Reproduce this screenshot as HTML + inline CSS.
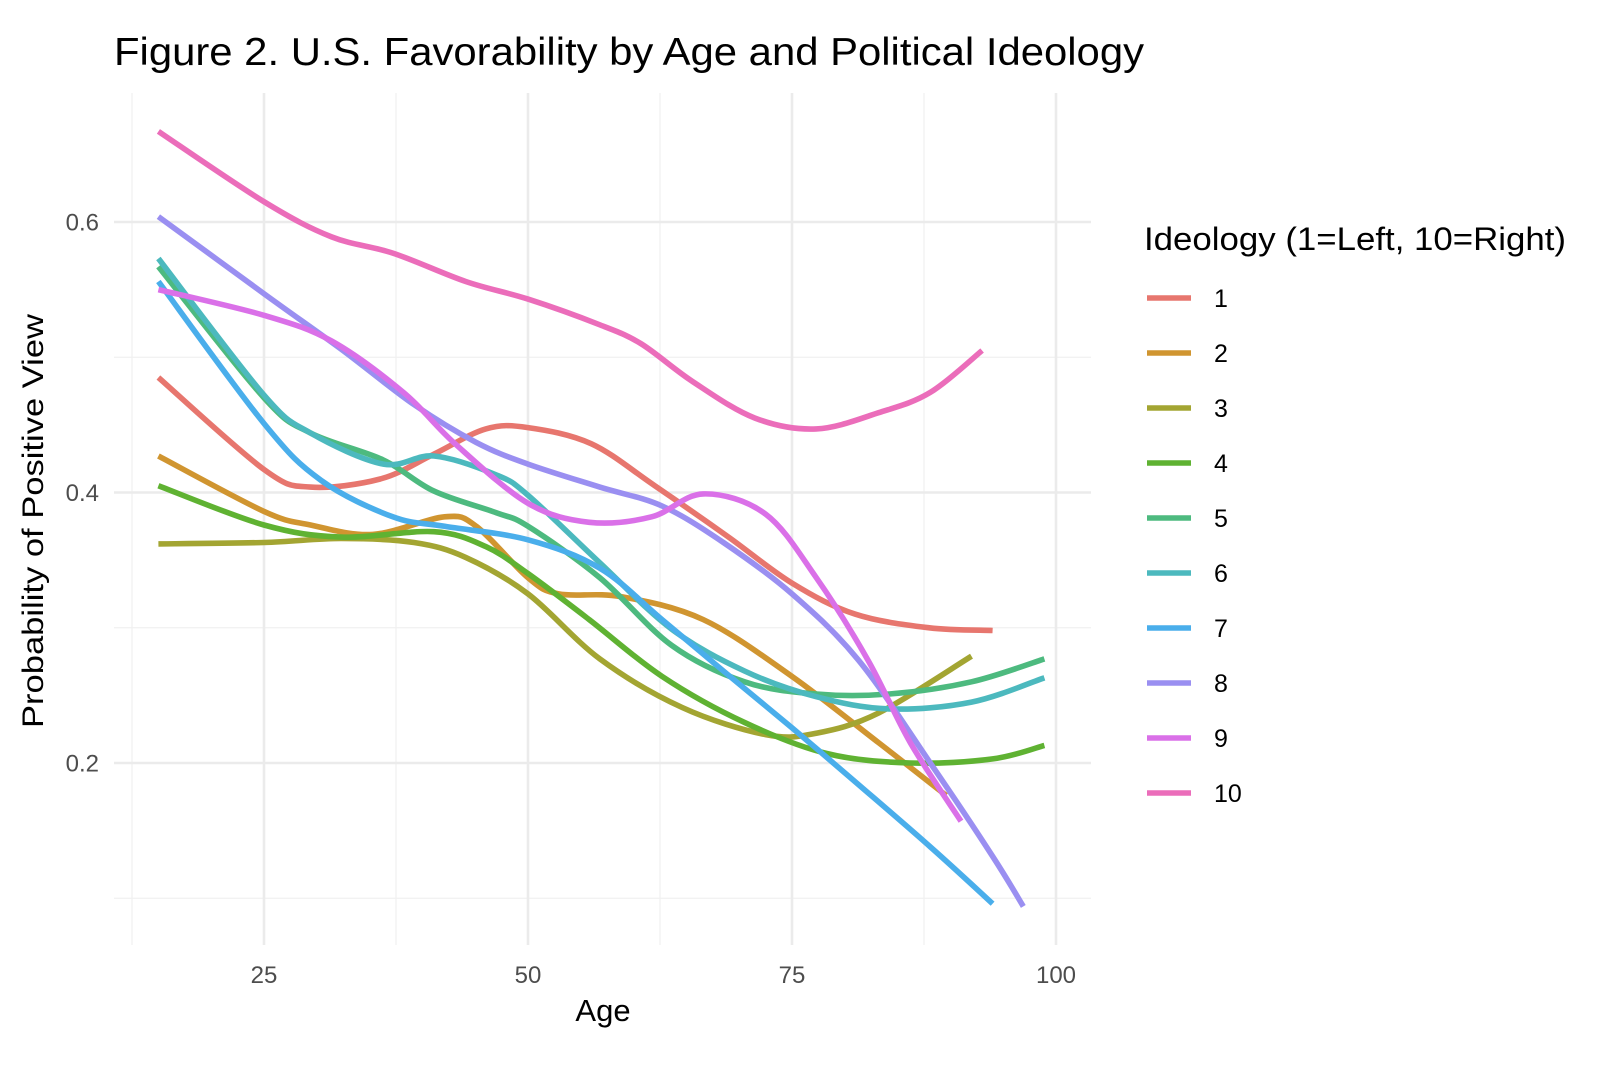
<!DOCTYPE html>
<html><head><meta charset="utf-8"><style>
body{margin:0;background:#fff;}
svg{display:block;font-family:"Liberation Sans",Arial,sans-serif;}
</style></head><body>
<svg id="chart" width="1620" height="1082" viewBox="0 0 1620 1082">
<text x="114" y="65" font-size="39" fill="#000" textLength="1030" lengthAdjust="spacingAndGlyphs">Figure 2. U.S. Favorability by Age and Political Ideology</text>
<g id="grid"></g>
<g id="axes"></g>
<g id="lines"></g>
<text x="603" y="1021" font-size="31" text-anchor="middle" fill="#000">Age</text>
<text transform="translate(43,521) rotate(-90)" font-size="30" text-anchor="middle" fill="#000" textLength="414" lengthAdjust="spacingAndGlyphs">Probability of Positive View</text>
<g id="legend">
<text x="1144" y="250" font-size="32" fill="#000" textLength="422" lengthAdjust="spacingAndGlyphs">Ideology (1=Left, 10=Right)</text>
</g>
</svg>
<script>
const NS="http://www.w3.org/2000/svg";
const seriesNames=["1","2","3","4","5","6","7","8","9","10"];
const colors=["#E7766E","#D09530","#A3A532","#5FB232","#4DBA7F","#4CB9BE","#4AAEEB","#9A8FF1","#DA70E8","#EB6DBA"];
const xTicks=[25,50,75,100];
const yTicks=[0.2,0.4,0.6];
const yTickLabels=["0.2","0.4","0.6"];
const ages1=[15,25,29.4,36,41,46,50,56,62,69,75,81,88,94];
const vals1=[0.485,0.417,0.404,0.41,0.428,0.447,0.448,0.436,0.405,0.367,0.333,0.31,0.3,0.298];
const ages2=[15,25,29.4,35.3,42.1,45.1,50,52.9,58.8,66.6,75,83.2,89.6];
const vals2=[0.427,0.386,0.376,0.369,0.382,0.375,0.337,0.325,0.323,0.306,0.264,0.215,0.176];
const ages3=[15,25,32.3,39.2,44.1,50,56.8,64.6,72.5,77.3,83.2,92];
const vals3=[0.362,0.363,0.366,0.363,0.352,0.325,0.277,0.241,0.221,0.222,0.237,0.279];
const ages4=[15,25,32.3,41.1,46,50,55.8,62.7,70.5,78.3,86.2,94,98.9];
const vals4=[0.405,0.376,0.367,0.371,0.36,0.34,0.306,0.264,0.23,0.207,0.2,0.203,0.213];
const ages5=[15,25,29.4,36.3,41.1,47,50,56.8,63.6,70.5,77.3,84.2,92,98.9];
const vals5=[0.567,0.47,0.444,0.424,0.401,0.385,0.375,0.337,0.287,0.26,0.251,0.251,0.26,0.277];
const ages6=[15,25,29.4,36.3,41.1,47,50,56.8,63.6,70.5,77.3,84.2,92,98.9];
const vals6=[0.573,0.472,0.444,0.421,0.427,0.413,0.398,0.348,0.299,0.268,0.249,0.24,0.245,0.263];
const ages7=[15,25,30.4,37.2,42.1,50,56.8,62.7,68.5,75,81.3,88.1,94];
const vals7=[0.556,0.451,0.409,0.382,0.375,0.365,0.344,0.306,0.268,0.226,0.184,0.138,0.096];
const ages8=[15,25,32.3,39.2,45.1,50,56.8,62.7,68.5,75,81.3,88.1,94,96.9];
const vals8=[0.604,0.547,0.506,0.465,0.437,0.421,0.404,0.39,0.363,0.325,0.276,0.2,0.131,0.094];
const ages9=[15,25,31.4,38.2,43.1,50,55.8,61.7,66.6,72.5,77.3,82.2,86.2,91];
const vals9=[0.55,0.531,0.512,0.474,0.436,0.392,0.378,0.382,0.399,0.384,0.337,0.276,0.215,0.157];
const ages10=[15,25,31.4,37.2,44.1,50,56.8,60.7,65.6,71.5,77.3,83.2,88.1,93];
const vals10=[0.667,0.615,0.589,0.577,0.556,0.543,0.524,0.51,0.482,0.455,0.447,0.459,0.474,0.505];
const allAges=[ages1,ages2,ages3,ages4,ages5,ages6,ages7,ages8,ages9,ages10];
const allVals=[vals1,vals2,vals3,vals4,vals5,vals6,vals7,vals8,vals9,vals10];

const PL=114,PR=1091,PT=93,PB=945;
function xs(a){return 264+(a-25)*(1056-264)/75;}
function ys(p){return 222+(0.6-p)*(763-222)/0.4;}
function mk(tag,attrs,parent){const e=document.createElementNS(NS,tag);for(const k in attrs)e.setAttribute(k,attrs[k]);parent.appendChild(e);return e;}
const grid=document.getElementById('grid'),axes=document.getElementById('axes'),lines=document.getElementById('lines'),legend=document.getElementById('legend');
[12.5,37.5,62.5,87.5].forEach(a=>{const l=mk('line',{x1:xs(a),x2:xs(a),y1:PT,y2:PB,stroke:'#f0f0f0','stroke-width':1.3},grid);

});
[0.1,0.3,0.5].forEach(p=>{const l=mk('line',{x1:PL,x2:PR,y1:ys(p),y2:ys(p),stroke:'#f0f0f0','stroke-width':1.3},grid);

});
xTicks.forEach(a=>{const l=mk('line',{x1:xs(a),x2:xs(a),y1:PT,y2:PB,stroke:'#ebebeb','stroke-width':2.6},grid);


const t=mk('text',{x:xs(a),y:983,'font-size':24,'text-anchor':'middle',fill:'#4d4d4d'},axes);t.textContent=a;

});
yTicks.forEach((p,i)=>{const l=mk('line',{x1:PL,x2:PR,y1:ys(p),y2:ys(p),stroke:'#ebebeb','stroke-width':2.6},grid);


const t=mk('text',{x:99,y:ys(p)+8.5,'font-size':24,'text-anchor':'end',fill:'#4d4d4d'},axes);t.textContent=yTickLabels[i];

});
function smooth(pts){let d='M'+pts[0][0].toFixed(1)+','+pts[0][1].toFixed(1);
for(let i=0;i<pts.length-1;i++){const p0=pts[i-1]||pts[i],p1=pts[i],p2=pts[i+1],p3=pts[i+2]||p2;
const c1=[p1[0]+(p2[0]-p0[0])/6,p1[1]+(p2[1]-p0[1])/6],c2=[p2[0]-(p3[0]-p1[0])/6,p2[1]-(p3[1]-p1[1])/6];
d+='C'+c1[0].toFixed(1)+','+c1[1].toFixed(1)+' '+c2[0].toFixed(1)+','+c2[1].toFixed(1)+' '+p2[0].toFixed(1)+','+p2[1].toFixed(1);}
return d;}
allAges.forEach((ag,s)=>{const pts=ag.map((a,i)=>[xs(a),ys(allVals[s][i])]);
const p=mk('path',{d:smooth(pts),fill:'none',stroke:colors[s],'stroke-width':5.6,'stroke-linecap':'butt','stroke-linejoin':'round'},lines);


const y=298+s*55;
const k=mk('line',{x1:1147,x2:1191,y1:y,y2:y,stroke:colors[s],'stroke-width':5.6},legend);


const t=mk('text',{x:1214,y:y+9,'font-size':25,fill:'#000'},legend);t.textContent=seriesNames[s];

});
</script>
</body></html>
